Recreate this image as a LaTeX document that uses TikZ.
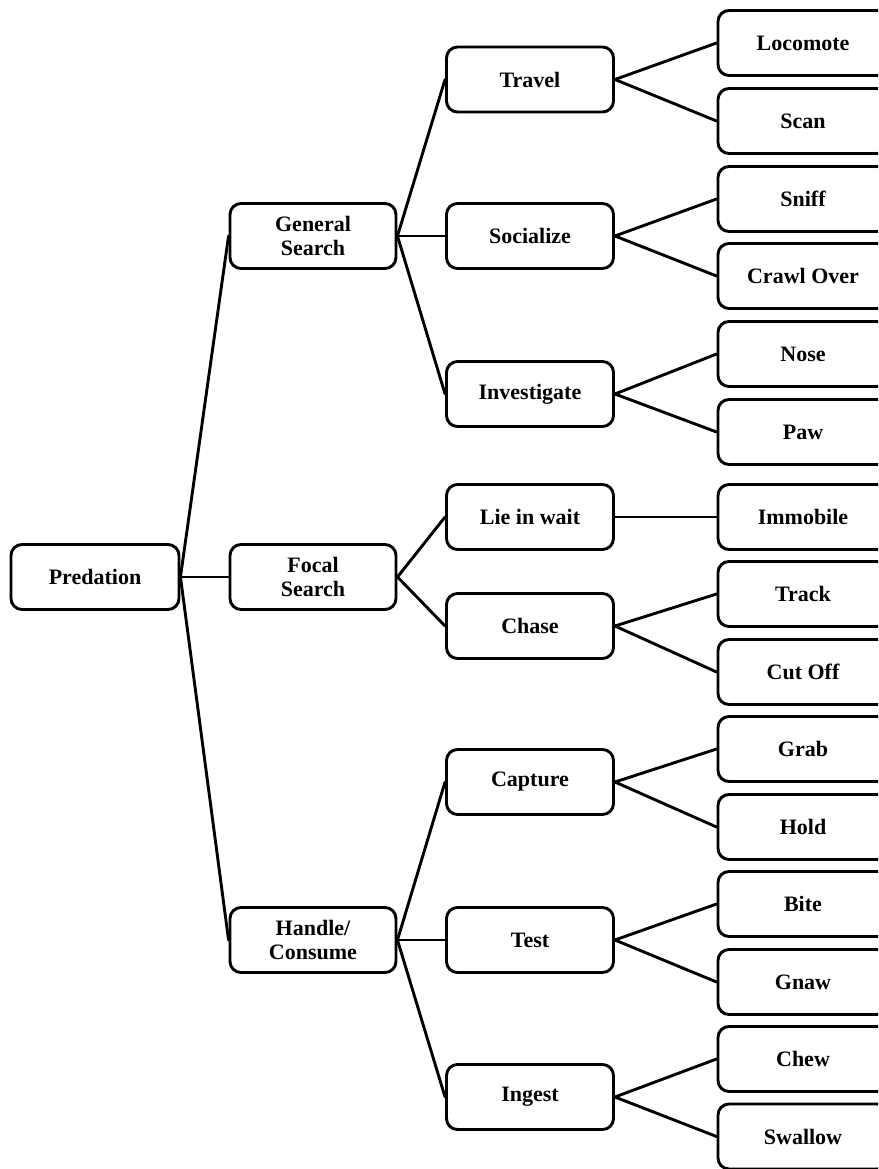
\documentclass[tikz,border=0pt]{standalone}
\usepackage{fontspec}
\setmainfont{Liberation Serif}
\begin{document}
\begin{tikzpicture}[x=1pt,y=-1pt,
  box/.style={draw=black, line width=2.9pt, rounded corners=11pt, fill=white,
    minimum height=65pt, inner sep=0pt, align=center,
    font=\fontsize{22}{24.5}\selectfont\bfseries},
  rootbox/.style={box, minimum width=168pt},
  midbox/.style={box, minimum width=166pt},
  subbox/.style={box, minimum width=167pt},
  leafbox/.style={box, minimum width=170pt},
  link/.style={line width=2.9pt, line cap=round}]
\useasboundingbox (0,0) rectangle (878,1169);
\clip (0,0) rectangle (878,1169);
% root
\node[rootbox] (pred) at (95,577) {Predation};
% level 2
\node[midbox] (gen) at (313,236) {General\\Search};
\node[midbox] (foc) at (313,577) {Focal\\Search};
\node[midbox] (han) at (313,940) {Handle/\\Consume};
% level 3
\node[subbox] (tra) at (530,79.5) {Travel};
\node[subbox] (soc) at (530,236) {Socialize};
\node[subbox] (inv) at (530,394) {Investigate};
\node[subbox] (lie) at (530,517) {Lie in wait};
\node[subbox] (cha) at (530,626) {Chase};
\node[subbox] (cap) at (530,782) {Capture};
\node[subbox] (tes) at (530,940) {Test};
\node[subbox] (ing) at (530,1097) {Ingest};
% leaves
\node[leafbox] (loc) at (803,43) {Locomote};
\node[leafbox] (sca) at (803,121) {Scan};
\node[leafbox] (sni) at (803,199) {Sniff};
\node[leafbox] (cra) at (803,276) {Crawl Over};
\node[leafbox] (nos) at (803,354) {Nose};
\node[leafbox] (paw) at (803,432) {Paw};
\node[leafbox] (imm) at (803,517) {Immobile};
\node[leafbox] (trk) at (803,594) {Track};
\node[leafbox] (cut) at (803,672) {Cut Off};
\node[leafbox] (gra) at (803,749) {Grab};
\node[leafbox] (hol) at (803,827) {Hold};
\node[leafbox] (bit) at (803,904) {Bite};
\node[leafbox] (gna) at (803,982) {Gnaw};
\node[leafbox] (che) at (803,1059) {Chew};
\node[leafbox] (swa) at (803,1136.5) {Swallow};
% connectors
\foreach \a/\b in {pred/gen, pred/foc, pred/han,
  gen/tra, gen/soc, gen/inv, foc/lie, foc/cha, han/cap, han/tes, han/ing,
  tra/loc, tra/sca, soc/sni, soc/cra, inv/nos, inv/paw, lie/imm,
  cha/trk, cha/cut, cap/gra, cap/hol, tes/bit, tes/gna, ing/che, ing/swa}
  \draw[link] (\a.east) -- (\b.west);
\end{tikzpicture}
\end{document}
